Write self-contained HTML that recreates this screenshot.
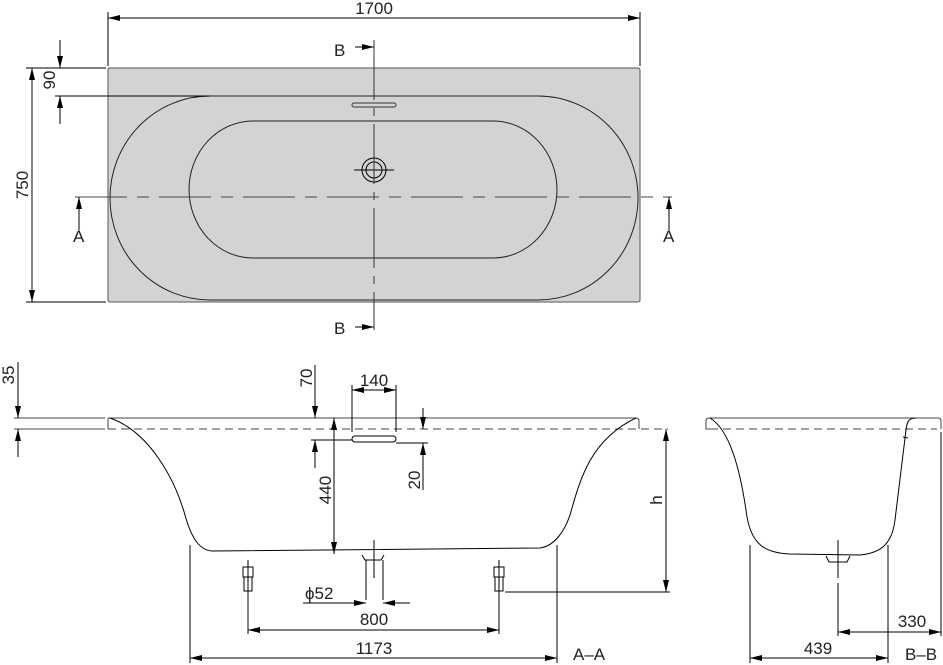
<!DOCTYPE html>
<html><head><meta charset="utf-8"><style>
html,body{margin:0;padding:0;background:#fff;width:943px;height:665px;overflow:hidden}
svg{display:block}
text{font-family:"Liberation Sans Narrow","Liberation Sans",sans-serif;font-size:17px;fill:#222}
</style></head><body>
<svg width="943" height="665" viewBox="0 0 943 665" xmlns="http://www.w3.org/2000/svg">
<defs>
<marker id="a" viewBox="0 0 12 6" refX="12" refY="3" markerWidth="12" markerHeight="6" orient="auto-start-reverse" markerUnits="userSpaceOnUse"><path d="M0,0 L12,3 L0,6 z" fill="#000"/></marker>
</defs>
<g stroke="#000" stroke-width="1" fill="none">
<!-- TOP VIEW -->
<rect x="108" y="68" width="532" height="234" rx="2" fill="#d2d3d5" stroke="#555"/>
<path d="M210,96 L538,96 A100,102 0 0 1 538,300 L210,300 A100,102 0 0 1 210,96 Z" stroke="#222"/>
<path d="M253,121 L493,121 A64,68.5 0 0 1 493,258 L253,258 A64,68.5 0 0 1 253,121 Z" stroke="#222"/>
<rect x="352" y="103" width="44" height="4" rx="2" stroke="#333"/>
<circle cx="374" cy="170" r="12"/><circle cx="374" cy="170" r="8"/>
<line x1="354" y1="170" x2="394" y2="170"/>
<line x1="374" y1="40" x2="374" y2="330" stroke-dasharray="60,8,8,8" stroke="#333"/>
<line x1="75" y1="197" x2="672" y2="197" stroke-dasharray="52,10,12,10" stroke="#444"/>
<!-- 1700 -->
<line x1="108" y1="66" x2="108" y2="12"/><line x1="640" y1="66" x2="640" y2="12"/>
<line x1="108" y1="18" x2="640" y2="18" marker-start="url(#a)" marker-end="url(#a)"/>
<!-- 750 -->
<line x1="26" y1="68" x2="106" y2="68"/><line x1="26" y1="302" x2="106" y2="302"/>
<line x1="32" y1="68" x2="32" y2="302" marker-start="url(#a)" marker-end="url(#a)"/>
<!-- 90 -->
<line x1="55" y1="96" x2="210" y2="96"/>
<line x1="60" y1="40" x2="60" y2="68" marker-end="url(#a)"/>
<line x1="60" y1="124" x2="60" y2="96" marker-end="url(#a)"/>
<!-- A arrows -->
<line x1="79" y1="230" x2="79" y2="197" marker-end="url(#a)"/>
<line x1="669" y1="230" x2="669" y2="197" marker-end="url(#a)"/>
<!-- B arrows -->
<line x1="355" y1="47" x2="374" y2="47" marker-end="url(#a)"/>
<line x1="355" y1="327" x2="374" y2="327" marker-end="url(#a)"/>

<!-- A-A SECTION -->
<line x1="14" y1="418" x2="105" y2="418" stroke="#444"/>
<line x1="14" y1="429" x2="105" y2="429" stroke="#444"/>
<path d="M108,418 L108,429 M108,418 L636,418 Q639,418 639,421 L639,429" stroke="#444"/>
<line x1="108" y1="429" x2="668" y2="429" stroke-dasharray="8,5" stroke="#444"/>
<path d="M110,418 C150,432 175,480 185,515 C192,540 200,550 212,551 L540,548 C555,546 565,530 570,515 C580,480 590,440 636,418"/>
<!-- drain -->
<path d="M362,555 L365,560 L381,560 L384,555" /><line x1="366" y1="560" x2="366" y2="600"/><line x1="383" y1="560" x2="383" y2="600"/>
<line x1="374" y1="540" x2="374" y2="578"/>
<!-- feet -->
<rect x="243" y="567" width="10" height="10"/><rect x="244" y="577" width="8" height="14"/>
<rect x="494" y="567" width="10" height="10"/><rect x="495" y="577" width="8" height="14"/>
<line x1="248" y1="560" x2="248" y2="634"/><line x1="499" y1="560" x2="499" y2="634"/>
<!-- 800 -->
<line x1="248" y1="630" x2="499" y2="630" marker-start="url(#a)" marker-end="url(#a)"/>
<!-- 1173 -->
<line x1="190" y1="545" x2="190" y2="663"/><line x1="557" y1="545" x2="557" y2="663"/>
<line x1="190" y1="658" x2="557" y2="658" marker-start="url(#a)" marker-end="url(#a)"/>
<!-- phi52 -->
<line x1="303" y1="603" x2="366" y2="603" marker-end="url(#a)"/>
<line x1="410" y1="603" x2="383" y2="603" marker-end="url(#a)"/>
<!-- h -->
<line x1="505" y1="592" x2="670" y2="592"/>
<line x1="666" y1="429" x2="666" y2="592" marker-start="url(#a)" marker-end="url(#a)"/>
<!-- 440 -->
<line x1="334" y1="418" x2="334" y2="554" marker-start="url(#a)" marker-end="url(#a)"/>
<!-- 70 -->
<line x1="311" y1="440" x2="352" y2="440"/>
<line x1="315" y1="365" x2="315" y2="418" marker-end="url(#a)"/>
<line x1="315" y1="468" x2="315" y2="440" marker-end="url(#a)"/>
<!-- slot -->
<rect x="352" y="436" width="44" height="6" rx="3"/>
<line x1="396" y1="443" x2="428" y2="443"/>
<!-- 140 -->
<line x1="352" y1="385" x2="352" y2="432"/><line x1="396" y1="385" x2="396" y2="432"/>
<line x1="352" y1="390" x2="396" y2="390" marker-start="url(#a)" marker-end="url(#a)"/>
<!-- 20 -->
<line x1="423" y1="408" x2="423" y2="429" marker-end="url(#a)"/>
<line x1="423" y1="490" x2="423" y2="443" marker-end="url(#a)"/>
<!-- 35 -->
<line x1="18" y1="362" x2="18" y2="418" marker-end="url(#a)"/>
<line x1="18" y1="457" x2="18" y2="429" marker-end="url(#a)"/>

<!-- B-B SECTION -->
<path d="M709,418 L938,418 Q941,418 941,421 L941,429 M709,418 Q706,418 706,421 L706,429 L710,429" stroke="#444"/>
<line x1="710" y1="429" x2="937" y2="429" stroke-dasharray="8,5" stroke="#444"/>
<path d="M710,418 C730,430 740,470 746,510 C750,545 765,553 790,554 L860,555 C880,553 892,545 895,520 L906,430 C907,420 910,418 916,418"/>
<line x1="903" y1="437" x2="908" y2="438"/>
<path d="M826,556 L829,562 L847,562 L850,556"/>
<line x1="838" y1="540" x2="838" y2="578"/><line x1="838" y1="583" x2="838" y2="636"/>
<line x1="750" y1="545" x2="750" y2="663"/><line x1="888" y1="545" x2="888" y2="663"/>
<line x1="941" y1="432" x2="941" y2="636"/>
<line x1="750" y1="658" x2="888" y2="658" marker-start="url(#a)" marker-end="url(#a)"/>
<line x1="838" y1="632" x2="941" y2="632" marker-start="url(#a)" marker-end="url(#a)"/>
</g>
<g>
<text x="374" y="14" text-anchor="middle">1700</text>
<text x="334" y="56" font-size="19">B</text><text x="334" y="334" font-size="19">B</text>
<text x="73" y="242" font-size="19">A</text><text x="663" y="242" font-size="19">A</text>
<text transform="translate(28,185) rotate(-90)" text-anchor="middle">750</text>
<text transform="translate(55,80) rotate(-90)" text-anchor="middle">90</text>
<text transform="translate(14,375) rotate(-90)" text-anchor="middle">35</text>
<text transform="translate(312,378) rotate(-90)" text-anchor="middle">70</text>
<text x="374" y="386" text-anchor="middle">140</text>
<text transform="translate(331,490) rotate(-90)" text-anchor="middle">440</text>
<text transform="translate(420,480) rotate(-90)" text-anchor="middle">20</text>
<text transform="translate(662,500) rotate(-90)" text-anchor="middle">h</text>
<text x="305" y="599">ϕ52</text>
<text x="374" y="625" text-anchor="middle">800</text>
<text x="374" y="654" text-anchor="middle">1173</text>
<text x="573" y="660" font-size="19">A–A</text>
<text x="818" y="654" text-anchor="middle">439</text>
<text x="912" y="627" text-anchor="middle">330</text>
<text x="905" y="660" font-size="19">B–B</text>
</g>
</svg>
</body></html>
